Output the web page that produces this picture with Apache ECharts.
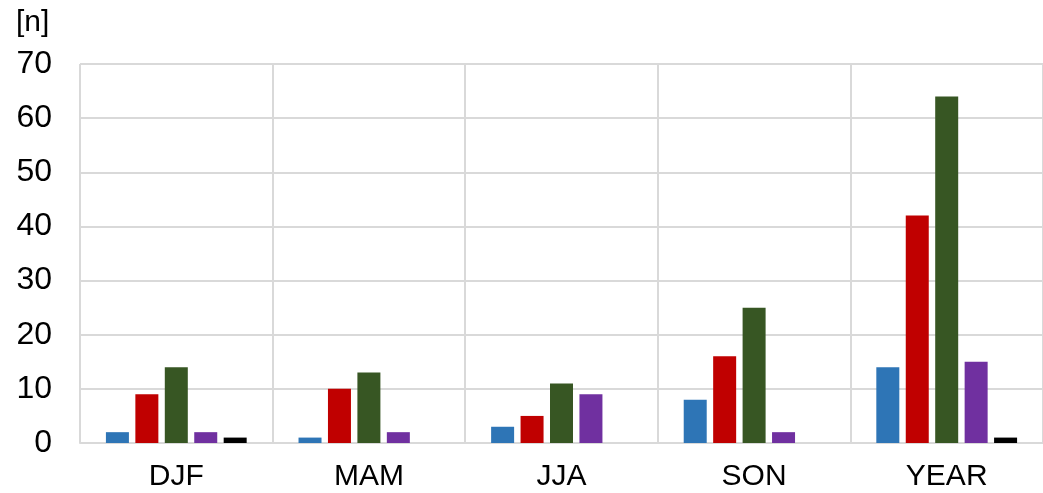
<!DOCTYPE html>
<html><head><meta charset="utf-8">
<script src="https://cdn.jsdelivr.net/npm/echarts@6/dist/echarts.min.js"></script>
<style>html,body{margin:0;padding:0;background:#fff}#c{width:1043px;height:493px}</style>
</head><body><div id="c"></div>
<script>
const categories = ['DJF', 'MAM', 'JJA', 'SON', 'YEAR'];
const seriesA = [2, 1, 3, 8, 14];
const seriesB = [9, 10, 5, 16, 42];
const seriesC = [14, 13, 11, 25, 64];
const seriesD = [2, 2, 9, 2, 15];
const seriesE = [1, 0, 0, 0, 1];
const colors = ['#2e75b6', '#c00000', '#375623', '#7030a0', '#000000'];
const allSeries = [seriesA, seriesB, seriesC, seriesD, seriesE];

const chart = echarts.init(document.getElementById('c'), null, {renderer: 'canvas'});
const font = 'Liberation Sans, Arial, sans-serif';
chart.setOption({
  animation: false,
  grid: {left: 80, right: 0, top: 64, bottom: 50},
  graphic: [{type: 'text', left: 16, top: 8, style: {text: '[n]', font: '30px ' + font, fill: '#000'}}],
  xAxis: {
    type: 'category', data: categories,
    axisLine: {lineStyle: {color: '#d9d9d9', width: 2}},
    axisTick: {show: false},
    axisLabel: {color: '#000', fontSize: 30, fontFamily: font, margin: 19},
    splitLine: {show: true, lineStyle: {color: '#d9d9d9', width: 2}}
  },
  yAxis: {
    type: 'value', min: 0, max: 70, interval: 10,
    axisLine: {show: false}, axisTick: {show: false},
    axisLabel: {color: '#000', fontSize: 32, fontFamily: font, margin: 28},
    splitLine: {lineStyle: {color: '#d9d9d9', width: 2}}
  },
  series: allSeries.map((d, i) => ({
    type: 'bar', data: d, barWidth: 23, barGap: '28%', barCategoryGap: '27%',
    itemStyle: {color: colors[i]}
  }))
});
</script></body></html>
